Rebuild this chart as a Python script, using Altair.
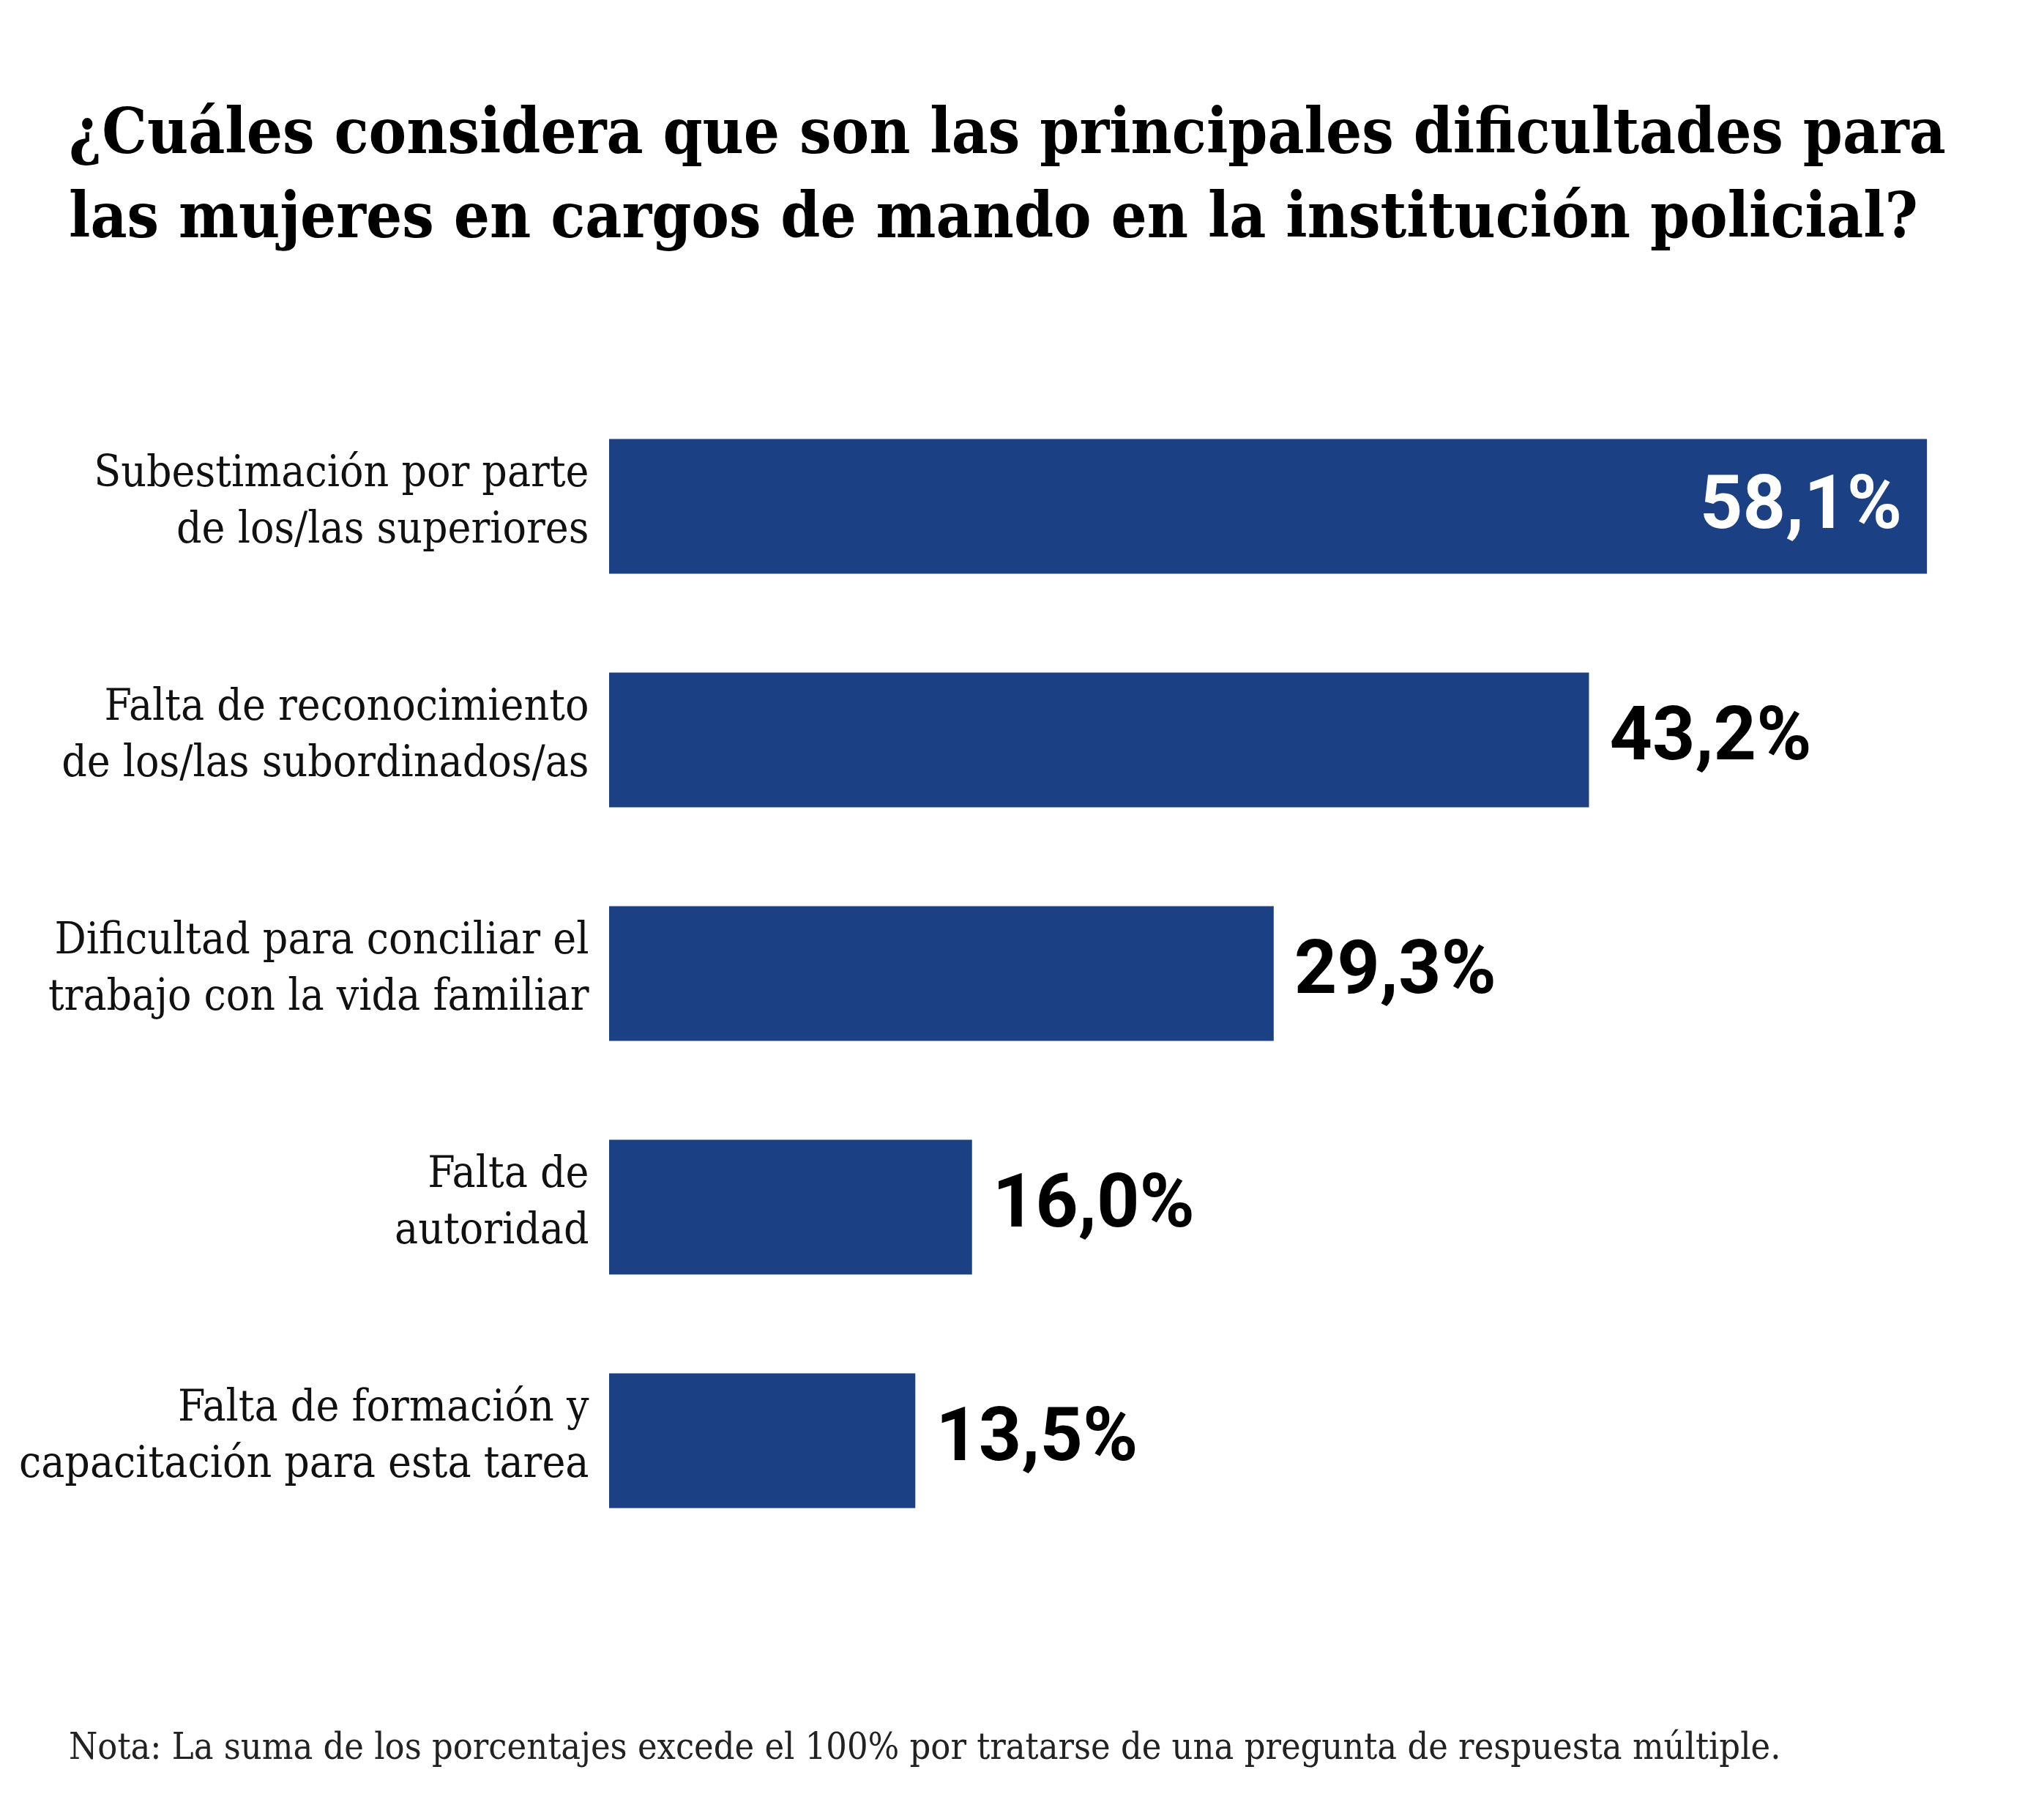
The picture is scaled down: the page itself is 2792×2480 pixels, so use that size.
import altair as alt
import pandas as pd

categories = [
    "Subestimación por parte|de los/las superiores",
    "Falta de reconocimiento|de los/las subordinados/as",
    "Dificultad para conciliar el|trabajo con la vida familiar",
    "Falta de|autoridad",
    "Falta de formación y|capacitación para esta tarea",
]
values = [58.1, 43.2, 29.3, 16.0, 13.5]
value_labels = ["58,1%", "43,2%", "29,3%", "16,0%", "13,5%"]

title_lines = [
    "¿Cuáles considera que son las principales dificultades para",
    "las mujeres en cargos de mando en la institución policial?",
]
note = "Nota: La suma de los porcentajes excede el 100% por tratarse de una pregunta de respuesta múltiple."

SERIF = "DejaVu Serif Condensed, DejaVu Serif"
BAR_COLOR = "#1c4084"

df = pd.DataFrame({
    "categoria": categories,
    "valor": values,
    "etiqueta": value_labels,
})
df["dentro"] = df["valor"] > 50

y_enc = alt.Y(
    "categoria:N",
    sort=categories,
    title=None,
    scale=alt.Scale(paddingInner=0.423, paddingOuter=0.2115),
    axis=alt.Axis(
        domain=False,
        ticks=False,
        labelPadding=28,
        labelOffset=-46,
        labelFont=SERIF,
        labelFontSize=60,
        labelLineHeight=77,
        labelColor="#111111",
        labelLimit=0,
        labelExpr="split(datum.label, '|')",
    ),
)
x_enc = alt.X("valor:Q", axis=None, scale=alt.Scale(domain=[0, 60], nice=False))

base = alt.Chart(df).encode(y=y_enc, x=x_enc)

bars = base.mark_bar(color=BAR_COLOR)

outside = base.transform_filter("!datum.dentro").mark_text(
    align="left", baseline="middle", dx=28, dy=-5,
    font="Roboto", fontWeight="bold", fontSize=102, color="#000000"
).encode(text="etiqueta:N")

inside = base.transform_filter("datum.dentro").mark_text(
    align="right", baseline="middle", dx=-34, dy=-2,
    font="Roboto", fontWeight="bold", fontSize=102, color="#ffffff"
).encode(text="etiqueta:N")

note_layer = alt.Chart(pd.DataFrame({"nota": [note]})).mark_text(
    align="left", baseline="alphabetic", font=SERIF, fontSize=50,
    fontWeight=300, color="#222222"
).encode(
    text="nota:N",
    x=alt.value(-738),
    y=alt.value(1870),
)

chart = alt.layer(bars, outside, inside, note_layer).properties(
    width=1859,
    height=1595,
    background="white",
    autosize=alt.AutoSizeParams(type="none"),
    padding={"left": 824, "top": 524, "right": 93, "bottom": 345},
    title=alt.TitleParams(
        text=title_lines,
        anchor="start",
        frame="group",
        dx=-738,
        offset=190,
        font=SERIF,
        fontSize=86,
        fontWeight="bold",
        lineHeight=115,
        color="#000000",
    ),
).configure_view(strokeWidth=0, stroke="transparent")

chart.save("out.html", embed_options={"renderer": "svg", "actions": False})
